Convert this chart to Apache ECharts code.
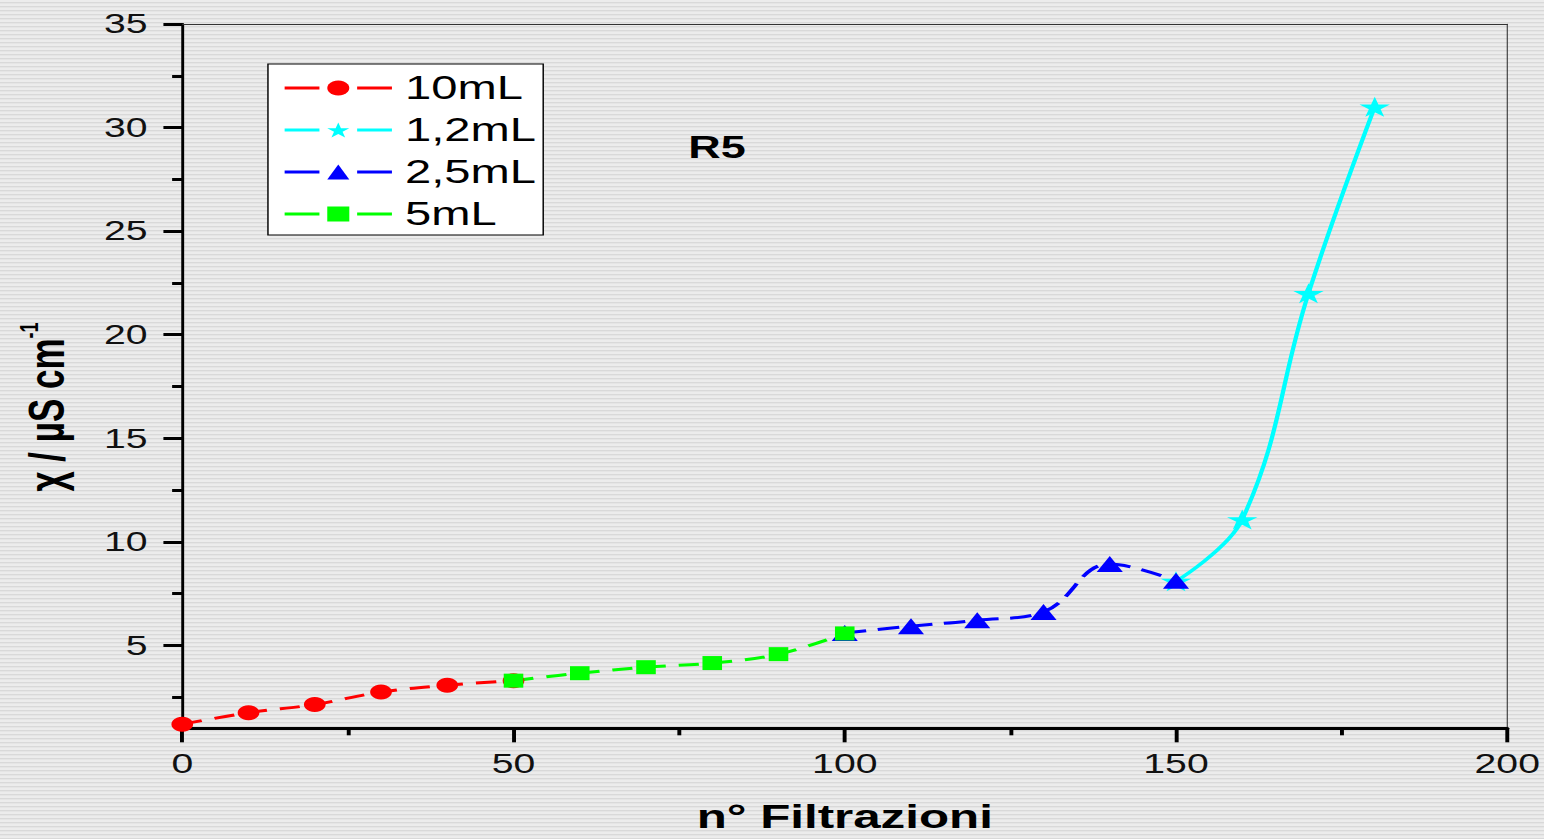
<!DOCTYPE html>
<html>
<head>
<meta charset="utf-8">
<script src="https://cdn.jsdelivr.net/npm/echarts@6/dist/echarts.min.js"></script>
<style>
  html, body {
    margin: 0; padding: 0; width: 1544px; height: 839px; overflow: hidden;
    background: repeating-linear-gradient(to bottom,
      #ececec 0px, #ececec 2px, #d9d9d9 2px, #d9d9d9 3px, #e5e5e5 3px, #e5e5e5 4px);
  }
  /* the plot is laid out narrow and widened horizontally */
  #chart { width: 1064.83px; height: 839px; transform: scaleX(1.45); transform-origin: 0 0; }
</style>
</head>
<body>
<div id="chart"></div>
<script>
// Conductivity vs number of filtrations, run R5
const xRed   = [0, 10, 20, 30, 40, 50];
const yRed   = [1.2, 1.75, 2.15, 2.75, 3.08, 3.3];
const xCyan  = [150, 160, 170, 180];
const yCyan  = [8.1, 11.08, 22.0, 31.0];
const xBlue  = [100, 110, 120, 130, 140, 150];
const yBlue  = [5.6, 5.93, 6.22, 6.62, 8.93, 8.12];
const xGreen = [50, 60, 70, 80, 90, 100];
const yGreen = [3.3, 3.66, 3.95, 4.15, 4.58, 5.58];

const seriesNames = ['10mL', '1,2mL', '2,5mL', '5mL'];
const yMajorTicks = [5, 10, 15, 20, 25, 30, 35];
const yMinorTicks = [2.5, 7.5, 12.5, 17.5, 22.5, 27.5, 32.5];

const FONT = '"Liberation Sans", Arial, Helvetica, sans-serif';
const STAR = 'path://M50,0 L61.8,35.4 L99,35.4 L69,57.3 L80.4,92.7 L50,70.8 L19.6,92.7 L31,57.3 L1,35.4 L38.2,35.4 Z';

const pairs = (xs, ys) => xs.map((x, i) => [x, ys[i]]);

const chart = echarts.init(document.getElementById('chart'), null, { renderer: 'svg' });

function lineSeries(name, xs, ys, color, symbol, size, dash) {
  return {
    name, type: 'line', data: pairs(xs, ys),
    smooth: 0.4, symbol, symbolSize: size, symbolKeepAspect: false,
    lineStyle: { color, width: 3, type: dash },
    itemStyle: { color },
    emphasis: { disabled: true },
    xAxisIndex: 0, yAxisIndex: 0
  };
}

chart.setOption({
  animation: false,
  backgroundColor: 'transparent',
  grid: { left: 125.7, right: 25.5, top: 24, bottom: 110.7 },
  xAxis: [
    {
      type: 'value', position: 'bottom', min: 0, max: 200, interval: 50,
      axisLine: { lineStyle: { color: '#000', width: 3 } },
      axisTick: { length: 14, lineStyle: { color: '#000', width: 2.7 } },
      minorTick: { show: true, splitNumber: 2, length: 7, lineStyle: { color: '#000', width: 2.7 } },
      splitLine: { show: false },
      axisLabel: { margin: 22, color: '#111', fontSize: 27, fontFamily: FONT },
      name: 'n° Filtrazioni', nameLocation: 'middle', nameGap: 71,
      nameTextStyle: { color: '#000', fontSize: 34, fontWeight: 'bold', fontFamily: FONT }
    },
    {
      type: 'value', position: 'top', min: 0, max: 200,
      axisLine: { lineStyle: { color: '#333', width: 1 } },
      axisTick: { show: false }, axisLabel: { show: false }, splitLine: { show: false }
    }
  ],
  yAxis: [
    {
      type: 'value', position: 'left', min: 1, max: 35,
      axisLine: { show: true, lineStyle: { color: '#000', width: 2 } },
      axisTick: { show: true, customValues: yMajorTicks, length: 13, lineStyle: { color: '#000', width: 3 } },
      axisLabel: { customValues: yMajorTicks, margin: 24, color: '#111', fontSize: 27, fontFamily: FONT },
      splitLine: { show: false }
    },
    {
      type: 'value', position: 'left', min: 1, max: 35,
      axisLine: { show: false },
      axisTick: { show: true, customValues: yMinorTicks, length: 7, lineStyle: { color: '#000', width: 3 } },
      axisLabel: { show: false }, splitLine: { show: false }
    },
    {
      type: 'value', position: 'right', min: 1, max: 35,
      axisLine: { show: true, lineStyle: { color: '#333', width: 0.75 } },
      axisTick: { show: false }, axisLabel: { show: false }, splitLine: { show: false }
    }
  ],
  legend: {
    orient: 'vertical', left: 184.8, top: 64,
    data: seriesNames,
    backgroundColor: '#fff', borderColor: '#000', borderWidth: 1, borderRadius: 0,
    padding: [7, 5, 4, 10],
    itemWidth: 74, itemHeight: 19, itemGap: 8,
    lineStyle: { type: [24, 26], width: 3 },
    textStyle: { color: '#000', fontSize: 32.5, fontFamily: FONT, lineHeight: 34, padding: [0, 0, 0, 4] },
    selectedMode: false
  },
  graphic: [
    {
      type: 'text', x: 32, y: 407, rotation: Math.PI / 2,
      style: {
        text: '{m|χ / µS cm}{s|-1}',
        align: 'center', verticalAlign: 'middle', fill: '#000',
        rich: {
          m: { fontSize: 35, fontWeight: 'bold', fontFamily: FONT, lineHeight: 42, fill: '#000' },
          s: { fontSize: 18, fontWeight: 'bold', fontFamily: FONT, verticalAlign: 'top', lineHeight: 20, fill: '#000' }
        }
      }
    },
    {
      type: 'text', x: 494.5, y: 147,
      style: { text: 'R5', font: 'bold 31px ' + FONT, align: 'center', verticalAlign: 'middle', fill: '#000' }
    }
  ],
  series: [
    lineSeries(seriesNames[0], xRed, yRed, '#ff0000', 'circle', 15, [14, 9]),
    lineSeries(seriesNames[1], xCyan, yCyan, '#00ffff', STAR, [21, 20], 'solid'),
    lineSeries(seriesNames[2], xBlue, yBlue, '#0000ff', 'triangle', [18, 16], [15, 8]),
    lineSeries(seriesNames[3], xGreen, yGreen, '#00ff00', 'rect', [13.5, 14], [14, 9])
  ]
});
</script>
</body>
</html>
